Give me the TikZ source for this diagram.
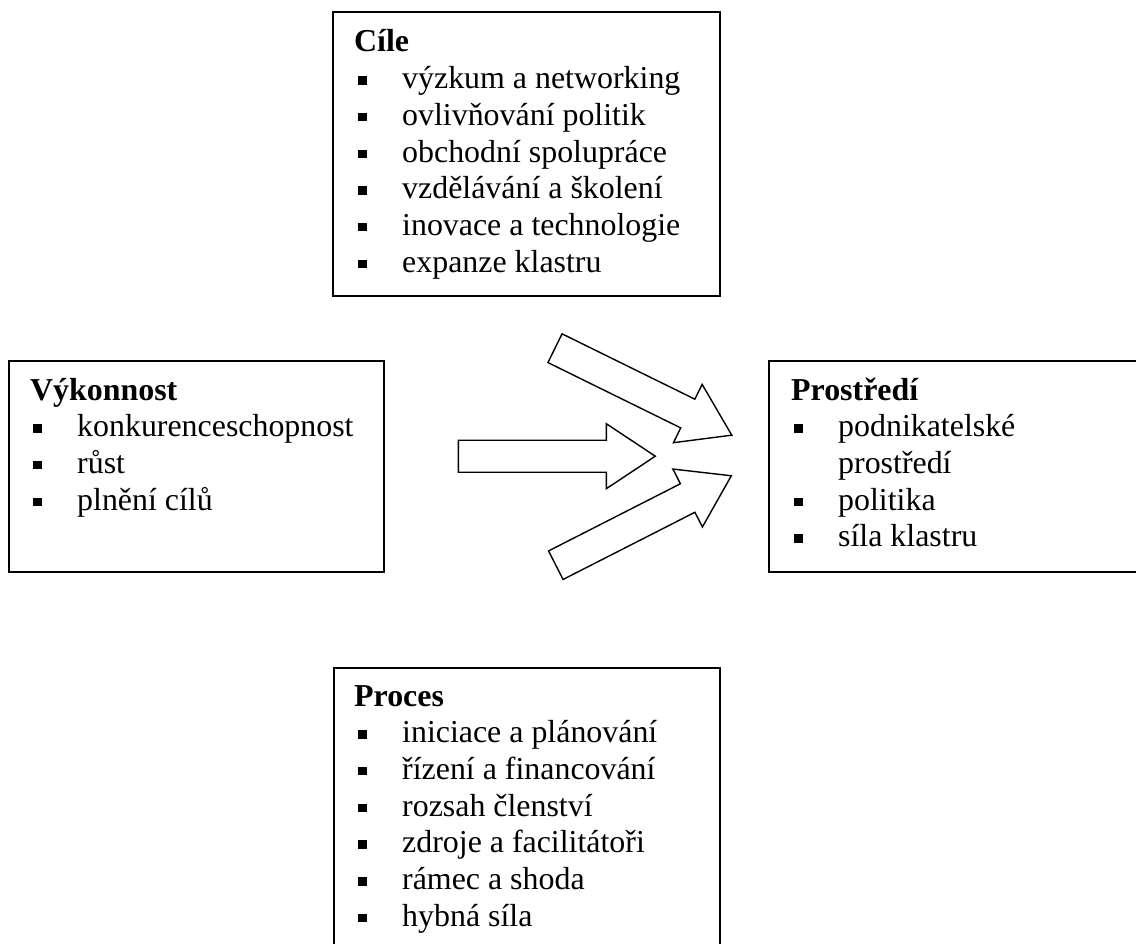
\documentclass[tikz,border=0pt]{standalone}
\usepackage{fontspec}
\setmainfont{Liberation Serif}
\begin{document}
\begin{tikzpicture}[x=1pt,y=-1pt]
\tikzset{
  box/.style={draw=black, line width=1.8pt},
  heading/.style={anchor=base west, inner sep=0pt, font=\bfseries\fontsize{31.9}{36.7}\selectfont},
  entry/.style={anchor=base west, inner sep=0pt, font=\fontsize{31.9}{36.7}\selectfont},
  bul/.style={fill=black},
  barrow/.style={draw=black, fill=white, line width=1.4pt, line join=miter},
  blockarrow/.pic={\draw[barrow] (0,-16) -- (148,-16) -- (148,-32.5) -- (197,0)
      -- (148,32.5) -- (148,16) -- (0,16) -- cycle;}
}
% #1 node name, #2 left margin, #3 baseline, #4 text
\newcommand\listentry[4]{%
  \fill[bul] ({#2+5},{#3-4}) rectangle ({#2+13.5},{#3-12.5});
  \node[entry] (#1) at ({#2+49},#3) {#4};}

\useasboundingbox (0,0) rectangle (1136,944);
\clip (0,0) rectangle (1136,944);
\fill[white] (0,0) rectangle (1136,944);

% Goals
\draw[box] (333,12) rectangle (720,296);
\node[heading] (cile) at (354,52) {Cíle};
\listentry{c1}{353}{88.7}{výzkum a networking}
\listentry{c2}{353}{125.4}{ovlivňování politik}
\listentry{c3}{353}{162.1}{obchodní spolupráce}
\listentry{c4}{353}{198.8}{vzdělávání a školení}
\listentry{c5}{353}{235.5}{inovace a technologie}
\listentry{c6}{353}{272.2}{expanze klastru}

% Performance
\draw[box] (9,361) rectangle (384,572);
\node[heading] (vykon) at (30,400) {Výkonnost};
\listentry{v1}{28}{436.7}{konkurenceschopnost}
\listentry{v2}{28}{473.4}{růst}
\listentry{v3}{28}{510.1}{plnění cílů}

% Environment
\draw[box] (769,361) rectangle (1150,572);
\node[heading] (prostr) at (791,400) {Prostředí};
\listentry{p1}{789}{436.7}{podnikatelské}
\node[entry] (p1b) at (838,473.4) {prostředí};
\listentry{p2}{789}{510.1}{politika}
\listentry{p3}{789}{546.8}{síla klastru}

% Process
\draw[box] (334,668) rectangle (720,960);
\node[heading] (proces) at (354,706) {Proces};
\listentry{r1}{353}{742.7}{iniciace a plánování}
\listentry{r2}{353}{779.4}{řízení a financování}
\listentry{r3}{353}{816.1}{rozsah členství}
\listentry{r4}{353}{852.8}{zdroje a facilitátoři}
\listentry{r5}{353}{889.5}{rámec a shoda}
\listentry{r6}{353}{926.2}{hybná síla}

% Block arrows
\pic[rotate=-26.2] at (555,348.2) {blockarrow};
\pic at (458.3,456.2) {blockarrow};
\pic[rotate=27] at (555.8,565.2) {blockarrow};
\end{tikzpicture}
\end{document}
